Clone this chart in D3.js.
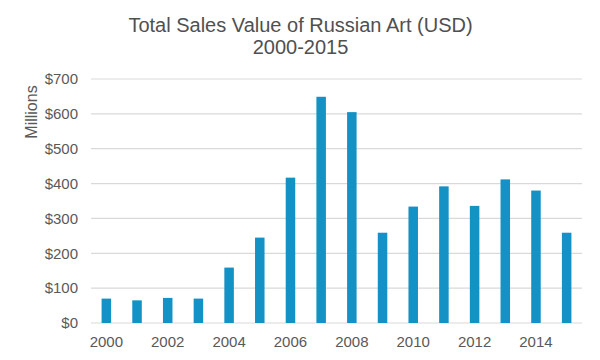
<!DOCTYPE html>
<html><head><meta charset="utf-8">
<script src="https://cdn.jsdelivr.net/npm/d3@7"></script>
<style>body{margin:0;background:#fff}svg{display:block}</style>
</head><body>
<svg id="c" width="600" height="360"></svg>
<script>
const years = [2000,2001,2002,2003,2004,2005,2006,2007,2008,2009,2010,2011,2012,2013,2014,2015];
const sales = [70,65,72,70,159,245,417,649,605,259,334,392,336,412,380,259];
const yTicks = [0,100,200,300,400,500,600,700];
const xTickYears = [2000,2002,2004,2006,2008,2010,2012,2014];

(function(){
const svg = d3.select("#c");
const font = "Arial, 'Liberation Sans', sans-serif";
const mLeft = 91, mRight = 582, mTop = 79, mBottom = 323;

const x = d3.scaleBand().domain(years).range([mLeft, mRight]).paddingInner(0.69).paddingOuter(0.345);
const y = d3.scaleLinear().domain([0,700]).range([mBottom, mTop]);

svg.append("g").selectAll("line").data(yTicks).join("line")
  .attr("x1", mLeft).attr("x2", mRight)
  .attr("y1", d => y(d)).attr("y2", d => y(d))
  .attr("stroke", "#d9d9d9").attr("stroke-width", 1.2);

const yAxis = d3.axisLeft(y).tickValues(yTicks).tickSize(0).tickPadding(13).tickFormat(d => "$" + d);
svg.append("g").attr("transform", `translate(${mLeft},0)`).call(yAxis)
  .call(g => g.select(".domain").remove())
  .selectAll("text").attr("font-family", font).attr("font-size", 15).attr("fill", "#595959");

svg.append("g").selectAll("rect").data(years).join("rect")
  .attr("x", (d) => x(d)).attr("width", x.bandwidth())
  .attr("y", (d,i) => y(sales[i])).attr("height", (d,i) => y(0) - y(sales[i]))
  .attr("fill", "#1592c5");

const xAxis = d3.axisBottom(x).tickValues(xTickYears).tickSize(0).tickPadding(13);
svg.append("g").attr("transform", `translate(0,${mBottom})`).call(xAxis)
  .call(g => g.select(".domain").remove())
  .selectAll("text").attr("font-family", font).attr("font-size", 15).attr("fill", "#595959");

svg.append("text").attr("x", 300.5).attr("y", 32).attr("text-anchor", "middle")
  .attr("font-family", font).attr("font-size", 20).attr("fill", "#505050")
  .text("Total Sales Value of Russian Art (USD)");
svg.append("text").attr("x", 300.5).attr("y", 54).attr("text-anchor", "middle")
  .attr("font-family", font).attr("font-size", 20).attr("fill", "#505050")
  .text("2000-2015");

svg.append("text").attr("transform", "translate(37,112) rotate(-90)").attr("text-anchor", "middle")
  .attr("font-family", font).attr("font-size", 16).attr("fill", "#595959")
  .text("Millions");
})();
</script>
</body></html>
